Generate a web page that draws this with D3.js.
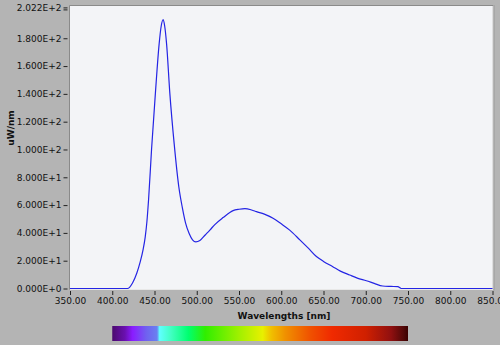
<!DOCTYPE html>
<html>
<head>
<meta charset="utf-8">
<script src="https://cdn.jsdelivr.net/npm/d3@7"></script>
<style>
  html, body { margin: 0; padding: 0; background: #b4b4b4; }
  svg { display: block; }
  .tick text { font-family: "DejaVu Sans", sans-serif; font-size: 9px; fill: #111; }
  .tick line { stroke: #222; }
  .title { font-family: "DejaVu Sans", sans-serif; font-size: 9px; font-weight: bold; fill: #111; }
</style>
</head>
<body>
<svg id="chart" width="500" height="345"></svg>
<script>
// spectrum
const wavelengths = [350, 418, 424, 429, 433, 436.5, 439, 441, 443, 446.5, 451, 455.5, 458, 460.3, 462, 464.3, 468.2,
  473.3, 478.8, 483, 486.8, 491, 495, 499, 503.7, 510, 515.5, 521.4, 531.2, 543, 550, 557, 565, 570.7,
  580, 590.3, 600, 610, 622, 632, 641.6, 650, 661, 670, 681, 690, 700.7, 710, 720, 730, 738, 742, 850];
const power = [0, 0, 4, 11, 19, 28, 37, 48, 64, 100, 140, 176, 189, 193.5, 189, 176, 140,
  104, 73, 58, 47, 39.5, 35, 33.5, 34.5, 38.5, 42, 46, 51, 56, 57, 57.5, 56.5, 55.3,
  53.5, 50.5, 46.5, 42, 35, 29, 23, 19.5, 15.7, 12.5, 9.7, 7.5, 5.6, 3.7, 1.8, 1.5, 1.3, 0, 0];

const xTicks = [350, 400, 450, 500, 550, 600, 650, 700, 750, 800, 850];
const yTicks = [0, 20, 40, 60, 80, 100, 120, 140, 160, 180, 202.2];

// colour bar stops (nm -> colour)
const barNm = [400, 415, 424, 440, 453, 456, 470, 490, 510, 550, 578, 588, 605, 635, 660, 700, 730, 745, 750];
const barColors = ["#4b0a6e", "#6a10b0", "#8a1cff", "#7060f0", "#6a80f0", "#60ffff", "#40ffc0", "#00ff70",
  "#30ee00", "#a0f000", "#e8f000", "#f0c000", "#f09000", "#f05000", "#f02a00", "#d02000", "#901010", "#500808", "#3a0000"];

const svg = d3.select("#chart");
const plotLeft = 70, plotRight = 492.5, plotTop = 6, plotBottom = 289;

const x = d3.scaleLinear().domain([350, 850]).range([plotLeft, plotRight]);
const y = d3.scaleLinear().domain([0, 202.2]).range([288.5, 7.4]);

function sci(v) {
  if (v === 0) return "0.000E+0";
  const e = Math.floor(Math.log10(v));
  return (v / Math.pow(10, e)).toFixed(3) + "E+" + e;
}

// plot area
svg.append("rect")
  .attr("x", plotLeft).attr("y", plotTop)
  .attr("width", plotRight - plotLeft).attr("height", plotBottom - plotTop)
  .attr("fill", "#f3f4f7");
svg.append("path")
  .attr("d", `M${plotLeft - 0.5},${plotBottom + 0.5}V${plotTop - 0.5}H${plotRight + 0.5}`)
  .attr("fill", "none").attr("stroke", "#8a8a8a");
svg.append("path")
  .attr("d", `M${plotRight + 0.5},${plotTop}V${plotBottom + 0.5}H${plotLeft}`)
  .attr("fill", "none").attr("stroke", "#e8e8e8");
svg.append("path")
  .attr("d", `M${plotRight + 1.5},${plotTop - 1}V${plotBottom + 1.5}`)
  .attr("fill", "none").attr("stroke", "#9a9a9a");

// spectrum line
const line = d3.line()
  .x((d, i) => x(wavelengths[i]))
  .y(d => y(d))
  .curve(d3.curveMonotoneX);
svg.append("path")
  .datum(power)
  .attr("d", line)
  .attr("fill", "none")
  .attr("stroke", "#2424e4")
  .attr("stroke-width", 1.2);

// axes
svg.append("g")
  .attr("transform", `translate(0,${plotBottom + 2})`)
  .call(d3.axisBottom(x).tickValues(xTicks).tickFormat(d3.format(".2f")).tickSize(4).tickPadding(3))
  .call(g => g.select(".domain").remove());

svg.append("g")
  .attr("transform", `translate(${plotLeft - 2.5},0)`)
  .call(d3.axisLeft(y).tickValues(yTicks).tickFormat(sci).tickSize(4).tickPadding(2))
  .call(g => g.select(".domain").remove());

// double mark at the maximum
svg.append("line")
  .attr("x1", plotLeft - 6.5).attr("x2", plotLeft - 2.5)
  .attr("y1", y(202.2) + 2.5).attr("y2", y(202.2) + 2.5)
  .attr("stroke", "#222");

svg.append("text").attr("class", "title")
  .attr("x", 284).attr("y", 319)
  .attr("text-anchor", "middle")
  .text("Wavelengths [nm]");

svg.append("text").attr("class", "title")
  .attr("transform", "translate(14,128) rotate(-90)")
  .attr("text-anchor", "middle")
  .text("uW/nm");

// colour bar
const grad = svg.append("defs").append("linearGradient")
  .attr("id", "spectrum")
  .attr("x1", "0%").attr("x2", "100%");
const barX = d3.scaleLinear().domain([400, 750]).range([0, 100]);
grad.selectAll("stop")
  .data(barNm)
  .join("stop")
  .attr("offset", d => barX(d) + "%")
  .attr("stop-color", (d, i) => barColors[i]);

svg.append("rect")
  .attr("x", x(400)).attr("y", 326)
  .attr("width", x(750) - x(400)).attr("height", 15)
  .attr("fill", "url(#spectrum)");
</script>
</body>
</html>
